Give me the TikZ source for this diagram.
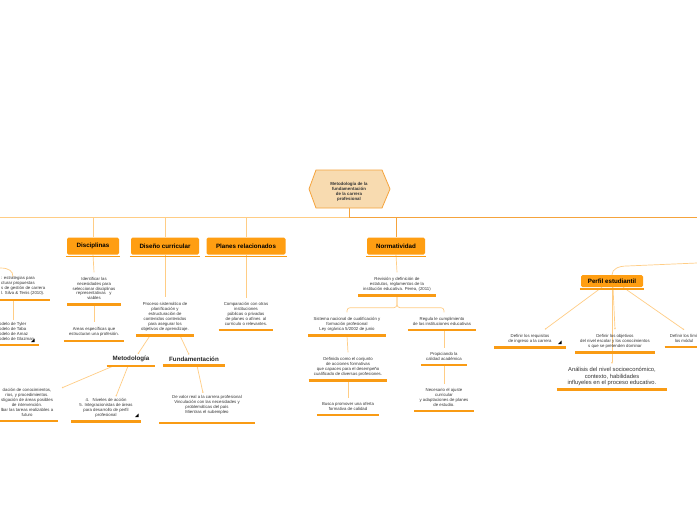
\documentclass[tikz,border=0pt]{standalone}
\usepackage{fontspec}
\setmainfont{Liberation Sans}
\usetikzlibrary{arrows.meta, positioning, backgrounds, calc}
\definecolor{mindorange}{HTML}{FF9E12}
\definecolor{mindbar}{HTML}{F99B14}
\definecolor{mindlight}{HTML}{FFCD85}
\definecolor{mindtrunk}{HTML}{F5A33C}
\definecolor{mindcream}{HTML}{F8DBB0}
\definecolor{mindink}{HTML}{333333}

\newcommand{\notesize}{\fontsize{4.3}{4.95}\selectfont}
\newcommand{\topicsize}{\fontsize{6.2}{7}\selectfont\bfseries}

\tikzset{
  bar/.style={draw=mindbar, line width=2.4pt},
  note/.style={font=\notesize, text=mindink, align=center, inner xsep=5pt, inner ysep=4.5pt,
    append after command={(\tikzlastnode.south west) edge[bar] (\tikzlastnode.south east)}},
  topic/.style={font=\topicsize, text=black, fill=mindorange, rounded corners=1.5pt,
    minimum height=17pt, inner xsep=2pt,
    append after command={([xshift=-1pt,yshift=-1.8pt]\tikzlastnode.south west)
      edge[bar, line width=1.6pt] ([xshift=1pt,yshift=-1.8pt]\tikzlastnode.south east)}},
  heading/.style={font=\topicsize, text=black!85, inner xsep=6pt, inner ysep=4pt,
    append after command={(\tikzlastnode.south west) edge[bar] (\tikzlastnode.south east)}},
  link/.style={draw=mindlight, line width=0.7pt},
  trunk/.style={draw=mindtrunk, line width=0.8pt},
  dotend/.style={-{Circle[length=1.4pt]}},
  clip mark/.style={fill=black}
}

\begin{document}
\begin{tikzpicture}[x=1pt, y=-1pt]
  \useasboundingbox (0,0) rectangle (697,520);
  \clip (0,0) rectangle (697,520);

  % Central topic
  \draw[trunk, fill=mindcream] (309,189) -- (316,170) -- (382,170) -- (390,189)
    -- (382,208) -- (316,208) -- cycle;
  \node[font=\fontsize{4.4}{5.1}\selectfont\bfseries, text=mindink, align=center,
    inner ysep=6.5pt] (root) at (349,192)
    {Metodología de la\\fundamentación\\de la carrera\\profesional};

  % Main branches
  \node[topic, minimum width=52pt] (disc) at (93,246) {Disciplinas};
  \node[topic, minimum width=68pt] (diseno) at (165,246) {Diseño curricular};
  \node[topic, minimum width=79pt] (planes) at (246,246) {Planes relacionados};
  \node[topic, minimum width=58pt] (norma) at (396,246) {Normatividad};
  \node[topic, minimum width=62pt, minimum height=12pt] (perfil) at (612,281) {Perfil estudiantil};

  % Left cut-off branch
  \node[note, align=left, anchor=west] (strat) at (-4,286)
    {: estrategias para\\cturar propuestas\\s de gestión de carrera\\l. Silva \& Tenis (2010).};
  \node[note, align=left, anchor=west] (tyler) at (-6,331.5)
    {odelo de Tyler\\odelo de Taba\\odelo de Arnaz\\odelo de Glazman};
  \fill[clip mark] (31,342) -- (34.5,342) -- (34.5,338.5) -- cycle;

  % Disciplinas
  \node[note] (ident) at (94,288.5)
    {Identificar las\\necesidades para\\seleccionar disciplinas\\representativas~~~y\\viables};
  \node[note] (areas) at (94,331.5) {Areas específicas que\\estructuran una profesión.};

  % Diseño curricular
  \node[note] (proc) at (165,316.5)
    {Proceso sistemático de\\planificación y\\estructuración de\\contenidos contenidos\\para asegurar los\\objetivos de aprendizaje.};
  \node[heading] (metod) at (131,359) {Metodología};
  \node[heading] (fundam) at (194,359) {Fundamentación};
  \node[note] (valid) at (27,402.5)
    {dación de conocimientos,\\rios, y procedimientos.\\stigación de áreas posibles\\de intervención.\\lbar las tareas realizables a\\futuro};
  \node[note, inner xsep=8pt] (niveles) at (106,407.5)
    {4.~~~Niveles de acción\\5. Integracionistas de áreas\\para desarrollo de perfil\\profesional};
  \fill[clip mark] (135,417) -- (138.5,417) -- (138.5,413.5) -- cycle;
  \node[note, inner xsep=13pt] (valor) at (207,407)
    {De valor real a la carrera profesional\\Vinculación con las necesidades y\\problemáticas del país\\Mientras el subempleo\\~};

  % Planes relacionados
  \node[note] (comp) at (246,314)
    {Comparación con otras\\instituciones\\públicas o privadas\\de planes o afines~~al\\currículo o relevantes.};

  % Normatividad
  \node[note] (revis) at (397,284)
    {Revisión y definición de\\estatutos, reglamentos de la\\institución educativa. Perea, (2011)};
  \node[note] (sist) at (347,324)
    {Sistema nacional de cualificación y\\formación profesional\\Ley orgánica 5/2002 de junio};
  \node[note] (regula) at (442,321.5) {Regula le cumplimiento\\de las instituciones educativas};
  \node[note] (defin) at (348,366.5)
    {Definida como el conjunto\\de acciones formativas\\que capaces para el desempeño\\cualificado de diversas profesiones.};
  \node[note] (busca) at (348,406.5) {Busca promover una oferta\\formativa de calidad};
  \node[note] (propic) at (444,356.5) {Propiciando la\\calidad académica};
  \node[note] (neces) at (444,397.5)
    {Necesario el ajuste\\curricular\\y adaptaciones de planes\\de estudio.};

  % Perfil estudiantil
  \node[note, inner xsep=14pt] (req) at (530,338.5) {Definir los requisitos\\de ingreso a la carrera};
  \fill[clip mark] (558,344) -- (561.5,344) -- (561.5,340.5) -- cycle;
  \node[note] (objet) at (615,341)
    {Definir los objetivos\\del nivel escolar y los conocimientos\\s que se pretenden dominar};
  \node[note] (limit) at (684,338.5) {Definir los límit\\los módul};
  \node[note, font=\fontsize{5.8}{6.6}\selectfont, inner xsep=10.5pt, inner ysep=3.5pt] (analisis)
    at (612,376.5) {Análisis del nivel socioeconómico,\\contexto, habilidades\\influyeles en el proceso educativo.};

  \begin{scope}[on background layer]
    \fill[white] (0,0) rectangle (697,520);
    \coordinate (hub) at (349,217);
    \coordinate (leftend) at (0,217);
    \coordinate (rightend) at (697,217);
    \coordinate (leftin) at (0,268);
    \coordinate (bendin) at (627,266);
    \coordinate (rightin) at (697,263);

    % trunk
    \draw[trunk] (root.south) -- (hub) -- (rightend);
    \draw[link] (hub) -- (leftend);
    \draw[link] (disc.north |- hub) -- (disc.north);
    \draw[link] (diseno.north |- hub) -- (diseno.north);
    \draw[link] (planes.north |- hub) -- (planes.north);
    \draw[trunk] (norma.north |- hub) -- (norma.north);
    \draw[link] (perfil.north) .. controls +(0,-6) and +(-8,0) .. (bendin) -- (rightin);

    % left
    \draw[link] (leftin) .. controls +(9,0) and +(0,-6) .. ([xshift=17pt,yshift=-5pt]strat.north west);
    \draw[link] ([xshift=17pt]strat.south west) -- ([xshift=19pt,yshift=-2pt]tyler.north west);

    % disciplinas and diseño
    \draw[link] (disc.south) -- (ident.north);
    \draw[link] (ident.south) -- (areas.north);
    \draw[link] (diseno.south) -- (proc.north);
    \draw[link] (planes.south) -- (comp.north);
    \draw[link, dotend] ([xshift=-15pt]proc.south) -- ([xshift=7pt,yshift=-2pt]metod.north);
    \draw[link, dotend] ([xshift=15pt]proc.south) -- ([xshift=-5pt,yshift=-2pt]fundam.north);
    \draw[link, dotend] ([xshift=-18pt]metod.south) -- ([xshift=35pt,yshift=-4pt]valid.north);
    \draw[link, dotend] ([xshift=-3pt]metod.south) -- ([xshift=10pt,yshift=-3pt]niveles.north);
    \draw[link, dotend] ([xshift=3pt]fundam.south) -- ([xshift=-4pt,yshift=-2pt]valor.north);

    % normatividad
    \draw[link] (norma.south) -- (revis.north);
    \draw[link, rounded corners=3pt] (revis.south) -- ++(0,12) -| (sist.north);
    \draw[link, rounded corners=3pt] (revis.south) -- ++(0,12) -| (propic.north |- sist.north);
    \draw[link] (sist.south) -- (defin.north);
    \draw[link] (defin.south) -- (busca.north);
    \draw[link] (propic.north |- regula.south) -- (propic.north);
    \draw[link] (propic.south) -- (neces.north);

    % perfil
    \draw[link, dotend] ([xshift=-10pt]perfil.south) -- ([xshift=15pt]req.north);
    \draw[link, dotend] ([xshift=1pt]perfil.south) -- (objet.north);
    \draw[link, dotend] ([xshift=11pt]perfil.south) -- (limit.north);
    \draw[link, dotend] (perfil.south) -- (analisis.north);
  \end{scope}
\end{tikzpicture}
\end{document}
